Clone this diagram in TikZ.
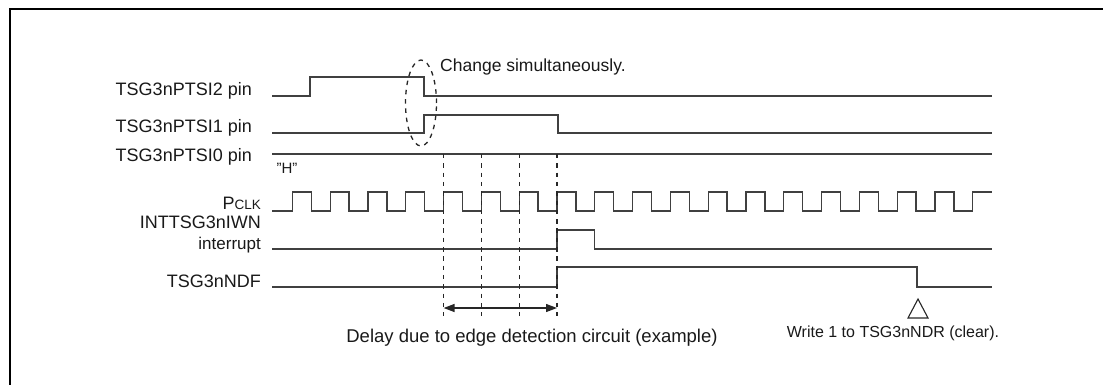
\documentclass[tikz,border=0pt]{standalone}
\usepackage{fontspec}
\setmainfont{Liberation Sans}
\usetikzlibrary{arrows.meta}
\begin{document}
\begin{tikzpicture}[x=1pt,y=-1pt,
  sig/.style={line width=1.3pt, draw=black!75, line join=miter},
  dsh/.style={line width=1.3pt, draw=black!85, dash pattern=on 4.5pt off 4.8pt},
  lab/.style={inner sep=0pt, text=black!90, font=\fontsize{18}{18}\selectfont},
  note/.style={inner sep=0pt, text=black!90}]
\useasboundingbox (0,0) rectangle (1103,385);
% frame
\draw[line width=2.5pt] (10,385) -- (10,9) -- (1103,9);
% labels
\node[lab, anchor=base east] (l2) at (252,96) {TSG3nPTSI2 pin};
\node[lab, anchor=base east] (l1) at (252,133) {TSG3nPTSI1 pin};
\node[lab, anchor=base east] (l0) at (252,161) {TSG3nPTSI0 pin};
\node[lab, anchor=base east] (lc) at (261,209) {P{\fontsize{13.5}{13.5}\selectfont CLK}};
\node[lab, anchor=base east] (li) at (261,228) {INTTSG3nIWN};
\node[lab, anchor=base east, font=\fontsize{17}{17}\selectfont] (li2) at (261,249) {interrupt};
\node[lab, anchor=base east] (ln) at (261,287) {TSG3nNDF};
\node[note, font=\fontsize{15}{15}\selectfont] (hh) at (287,168) {"H"};
% signals
\draw[sig] (272,96) -- (310,96) -- (310,77) -- (424,77) -- (424,96) -- (992,96);
\draw[sig] (272,133) -- (424,133) -- (424,115) -- (558,115) -- (558,133) -- (992,133);
\draw[sig] (272,154) -- (992,154);
\draw[sig] (272,211) foreach \k in {0,...,17}{ -- ({292.4+37.8*\k},211) -- ({292.4+37.8*\k},192) -- ({311.3+37.8*\k},192) -- ({311.3+37.8*\k},211)} -- (972.8,211) -- (972.8,192) -- (992,192);
\draw[sig] (272,249) -- (557,249) -- (557,230) -- (594.8,230) -- (594.8,249) -- (992,249);
\draw[sig] (272,287) -- (557,287) -- (557,267) -- (917,267) -- (917,287) -- (992,287);
% dashed guides
\foreach \xx in {443.6,481.4,519.2,557}{\draw[dsh] (\xx,154) -- (\xx,316);}
\draw[dsh] (421,103) ellipse [x radius=15.5pt, y radius=43pt];
% delay arrow
\coordinate (da) at (443.6,308);
\coordinate (db) at (557,308);
\draw[line width=1.3pt, black!85, {Triangle[length=11pt,width=8pt]}-{Triangle[length=11pt,width=8pt]}] (da) -- (db);
% clear marker
\draw[line width=1.1pt, black!85, line join=miter] (918,299) -- (908,318) -- (928,318) -- cycle;
% notes
\node[note, anchor=west, font=\fontsize{17.5}{17.5}\selectfont] (cs) at (440,67) {Change simultaneously.};
\node[note, font=\fontsize{18.5}{18.5}\selectfont] (dl) at (532,338) {Delay due to edge detection circuit (example)};
\node[note, font=\fontsize{16}{16}\selectfont] (wr) at (893,333) {Write 1 to TSG3nNDR (clear).};
\end{tikzpicture}
\end{document}
